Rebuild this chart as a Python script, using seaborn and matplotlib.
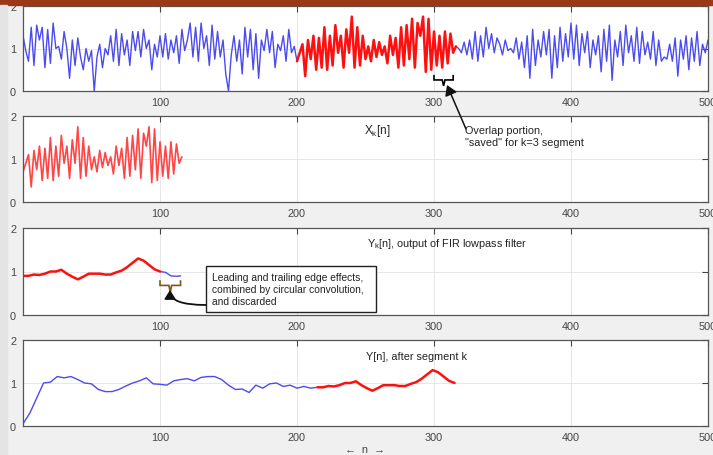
import numpy as np
import pandas as pd
import matplotlib
matplotlib.use("Agg")
import matplotlib.pyplot as plt
import seaborn as sns
from matplotlib.patches import Rectangle, FancyArrowPatch, PathPatch
from matplotlib.path import Path

# ---------------- data ----------------
x_n = list(range(0, 501, 2))
x_vals = [
    1.3, 0.95, 0.7, 1.5, 0.6, 1.55, 1.2, 1.5, 0.55, 1.45, 0.65, 1.6, 1.0, 1.05, 0.75, 1.4, 1.0, 0.3, 1.2, 0.6, 1.25, 0.8, 0.5, 1.0, 0.7, 0.95,
    0.0, 0.8, 1.1, 0.55, 1.0, 0.85, 1.3, 0.7, 1.45, 0.6, 1.35, 0.85, 1.2, 0.6, 1.4, 0.95, 1.4, 0.8, 1.45, 1.0, 1.2, 0.5, 1.1, 0.8, 1.3,
    0.8, 1.35, 0.75, 1.2, 0.9, 1.3, 0.65, 1.45, 0.95, 1.2, 1.6, 0.8, 1.5, 0.7, 1.6, 1.0, 1.3, 0.6, 1.55, 0.75, 1.4, 0.8, 1.2, 0.4, 0.0,
    0.85, 1.3, 0.7, 1.2, 0.4, 1.5, 0.8, 1.45, 0.5, 1.35, 0.3, 1.2, 0.95, 1.45, 0.9, 1.4, 0.55, 1.1, 0.95, 1.3, 0.7, 1.45, 0.9, 1.05, 0.7,
    0.9, 1.1, 0.35, 1.2, 0.75, 1.3, 0.5, 1.25, 0.55, 1.5, 0.5, 1.3, 0.6, 1.55, 0.9, 1.3, 0.55, 1.45, 0.9, 1.75, 0.55, 1.5, 0.6, 1.3, 0.75,
    1.05, 0.7, 1.2, 0.8, 1.15, 0.85, 1.05, 0.65, 1.3, 0.85, 1.25, 0.55, 1.5, 0.6, 1.55, 0.75, 1.7, 0.55, 1.6, 1.3, 1.75, 0.45, 1.7, 0.5, 1.4,
    0.6, 1.3, 0.55, 1.4, 0.65, 1.35, 0.9, 1.05,
    1.0, 0.9, 1.15, 0.85, 1.2, 0.75, 1.4, 0.7, 1.3, 0.8, 1.5, 1.0, 1.35, 0.9, 1.25, 1.1, 0.85,
    1.2, 0.95, 1.0, 0.9, 1.25, 0.75, 1.15, 0.55, 1.3, 0.3, 1.45, 0.6, 1.2, 0.8, 1.4, 0.85, 1.45, 0.3, 1.3, 0.55, 1.5, 0.7, 1.35, 0.8, 1.6,
    0.75, 1.55, 0.6, 1.35, 0.9, 1.4, 0.55, 1.2, 0.85, 1.3, 0.45, 1.45, 0.7, 1.55, 0.25, 1.2, 0.8, 1.4, 0.6, 1.55, 0.9, 1.3, 0.7, 1.5, 0.65,
    1.4, 0.85, 1.15, 0.75, 1.4, 0.6, 1.2, 0.7, 0.8, 0.75, 1.1, 0.7, 1.25, 0.35, 1.2, 0.75, 1.3, 0.5, 1.25, 0.7, 1.4, 0.6, 1.1, 0.9, 1.2,
]
seg_start = 200
seg_end = 316

yk_n = [0, 4, 8, 12, 16, 20, 24, 28, 32, 36, 40, 44, 48, 52, 56, 60, 64, 68, 72, 76, 80, 84, 88, 92, 96, 100]
yk_vals = [0.9, 0.9, 0.93, 0.92, 0.95, 1.0, 1.0, 1.04, 0.95, 0.88, 0.82, 0.88, 0.95, 0.95, 0.95, 0.93,
           0.93, 0.98, 1.02, 1.1, 1.2, 1.3, 1.25, 1.15, 1.05, 1.0]
yk_tail_n = [100, 104, 108, 112, 115]
yk_tail_vals = [1.0, 0.98, 0.9, 0.89, 0.9]

y_blue_n = list(range(0, 216, 5))
y_blue_vals = [0.05, 0.3, 0.65, 1.0, 1.02, 1.15, 1.12, 1.15, 1.08, 1.0, 0.98, 0.85, 0.8, 0.8, 0.85, 0.93,
               1.0, 1.05, 1.12, 0.98, 0.97, 0.95, 1.05, 1.08, 1.1, 1.05, 1.13, 1.15, 1.15, 1.08, 0.95,
               0.85, 0.86, 0.78, 0.95, 0.88, 0.98, 1.0, 0.92, 0.95, 0.88, 0.92, 0.88, 0.9]
y_offset = 215

x_ticks = [100, 200, 300, 400, 500]
y_ticks = [0, 1, 2]

# ---------------- figure ----------------
sns.set_style("white")
plt.rcParams['font.family'] = ['Liberation Sans', 'DejaVu Sans']
plt.rcParams['mathtext.default'] = 'regular'

W, H = 713, 456
fig = plt.figure(figsize=(W / 100, H / 100), dpi=100)
fig.patch.set_facecolor('#f0f0f0')

def fpx(x, y):
    return (x / W, 1 - y / H)

# top bar and left stripe
fig.patches.append(Rectangle((0, 1 - 6 / H), 1, 6 / H, transform=fig.transFigure, color='#9a3818', zorder=0))
fig.patches.append(Rectangle((0, 0), 7 / W, 1 - 6 / H, transform=fig.transFigure, color='#e4e4e4', zorder=0))

left, right = 23, 708
rows = [(7, 92), (117, 203), (229, 316), (341, 427)]
axes = []
for (t, b) in rows:
    ax = fig.add_axes([left / W, 1 - b / H, (right - left) / W, (b - t) / H])
    axes.append(ax)

blue = '#4b4bf0'
red = '#ff1010'

xn = np.array(x_n)
xv = np.array(x_vals)
df_x = pd.DataFrame({'n': xn, 'v': xv})

# Axes 1: full signal
ax = axes[0]
b1 = df_x[df_x.n <= seg_start]
b2 = df_x[df_x.n >= seg_end]
r1 = df_x[(df_x.n >= seg_start) & (df_x.n <= seg_end)]
sns.lineplot(data=b1, x='n', y='v', ax=ax, color=blue, lw=1.0, estimator=None, sort=False)
sns.lineplot(data=b2, x='n', y='v', ax=ax, color=blue, lw=1.0, estimator=None, sort=False)
sns.lineplot(data=r1, x='n', y='v', ax=ax, color=red, lw=1.8, estimator=None, sort=False)

# Axes 2: segment X_k
ax = axes[1]
seg = r1.copy()
seg['n'] = seg['n'] - seg_start
sns.lineplot(data=seg, x='n', y='v', ax=ax, color='#ff4545', lw=1.2, estimator=None, sort=False)

# Axes 3: Y_k
ax = axes[2]
sns.lineplot(x=yk_tail_n, y=yk_tail_vals, ax=ax, color=blue, lw=1.0, estimator=None, sort=False)
sns.lineplot(x=yk_n, y=yk_vals, ax=ax, color=red, lw=1.8, estimator=None, sort=False)

# Axes 4: Y
ax = axes[3]
sns.lineplot(x=y_blue_n, y=y_blue_vals, ax=ax, color=blue, lw=1.0, estimator=None, sort=False)
sns.lineplot(x=[n + y_offset for n in yk_n], y=yk_vals, ax=ax, color=red, lw=1.8, estimator=None, sort=False)

for ax in axes:
    ax.set_xlim(0, 500)
    ax.set_ylim(0, 2)
    ax.set_xticks(x_ticks)
    ax.set_yticks(y_ticks)
    ax.set_xlabel('')
    ax.set_ylabel('')
    ax.set_facecolor('white')
    for s in ax.spines.values():
        s.set_color('#555555')
        s.set_linewidth(0.9)
    ax.tick_params(direction='in', top=True, right=True, length=4, width=0.8,
                   labelsize=7.8, colors='#444444', pad=4)
    ax.tick_params(axis='y', pad=5)
    for xv_ in [100, 200, 300, 400]:
        ax.axvline(xv_, color='#e3e3e3', lw=0.6, zorder=0)
    ax.axhline(1, color='#e3e3e3', lw=0.6, zorder=0)

# braces
def brace(ax, x0, x1, y_top, y_bot, y_tip, color):
    xm = (x0 + x1) / 2
    verts = [(x0, y_top), (x0, y_bot), (xm - 1, y_bot),
             (xm, y_tip), (xm + 1, y_bot), (x1, y_bot), (x1, y_top)]
    codes = [Path.MOVETO] + [Path.LINETO] * 6
    ax.add_patch(PathPatch(Path(verts, codes), fill=False, edgecolor=color, lw=1.2, clip_on=False))

brace(axes[0], 300, 314, 0.38, 0.26, 0.12, 'black')
brace(axes[2], 100, 115, 0.8, 0.68, 0.52, '#7a5a18')

# annotations (figure pixel coords, origin top-left converted)
fig.text(*fpx(465, 137), 'Overlap portion,\n"saved" for k=3 segment', fontsize=7.8,
         va='center', ha='left', color='#222222', linespacing=1.2)
arr = FancyArrowPatch(fpx(466, 130), fpx(447, 86), transform=fig.transFigure,
                      arrowstyle='-|>,head_length=4,head_width=2.5', color='#111111', lw=1.1,
                      mutation_scale=1.5, shrinkA=0, shrinkB=0)
fig.patches.append(arr)

fig.text(*fpx(364, 131), 'X$_k$[n]', fontsize=8.5, va='center', ha='left', color='#222222')
fig.text(*fpx(367, 244), 'Y$_k$[n], output of FIR lowpass filter', fontsize=7.8, va='center', ha='left', color='#222222')
fig.text(*fpx(366, 357), 'Y[n], after segment k', fontsize=7.8, va='center', ha='left', color='#222222')
fig.text(*fpx(365, 450), '←  n  →', fontsize=7.8, va='center', ha='center', color='#444444')

# box
fig.patches.append(Rectangle(fpx(206, 313), 170 / W, 46 / H, transform=fig.transFigure,
                             facecolor='white', edgecolor='#222222', lw=1.0, zorder=5))
fig.text(*fpx(212, 290), 'Leading and trailing edge effects,\ncombined by circular convolution,\nand discarded',
         fontsize=7.4, va='center', ha='left', color='#222222', linespacing=1.25, zorder=6)
arr2 = FancyArrowPatch(fpx(206, 306), fpx(170, 291), transform=fig.transFigure,
                       connectionstyle='angle3,angleA=180,angleB=90',
                       arrowstyle='-|>,head_length=3.5,head_width=2.2', color='#111111', lw=1.3,
                       mutation_scale=1.5, shrinkA=0, shrinkB=0, zorder=6)
fig.patches.append(arr2)

fig.savefig('out.png', dpi=100, facecolor=fig.get_facecolor())
